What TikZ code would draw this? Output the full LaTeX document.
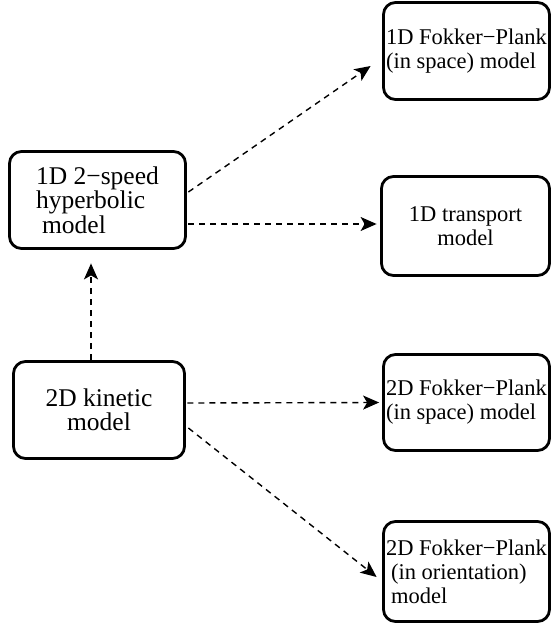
\documentclass[tikz,border=0pt]{standalone}
\usepackage{fontspec}
\setmainfont{Liberation Serif}
\usetikzlibrary{arrows.meta}
\begin{document}
\begin{tikzpicture}[x=1pt,y=-1pt,
  box/.style={draw, line width=2.8pt, rounded corners=12pt, inner sep=0pt},
  leftbox/.style={box, font=\fontsize{25.5}{24.5}\selectfont},
  rightbox/.style={box, font=\fontsize{22.5}{24}\selectfont},
  flow/.style={line width=1.4pt, dash pattern=on 6pt off 5pt, -{Stealth[length=16pt,width=14pt,inset=4pt]}}]
\useasboundingbox (0,0) rectangle (551,628);
\node[rightbox, minimum width=166pt, minimum height=97pt, align=left] (fp1) at (466.5,51) {1D Fokker−Plank\\(in space) model};
\node[leftbox, minimum width=176pt, minimum height=97pt, align=left] (hyp) at (97.5,200) {1D 2−speed\\hyperbolic\\\hspace*{6pt}model};
\node[rightbox, minimum width=168pt, minimum height=99pt, align=center] (tr) at (465.5,226) {1D transport\\model};
\node[leftbox, minimum width=171pt, minimum height=97pt, align=center] (kin) at (99,410) {2D kinetic\\model};
\node[rightbox, minimum width=166pt, minimum height=96pt, align=left] (fp2) at (466.5,402.5) {2D Fokker−Plank\\(in space) model};
\node[rightbox, minimum width=166pt, minimum height=100pt, align=left] (fp3) at (466.5,571.5) {2D Fokker−Plank\\\hspace*{5pt}(in orientation)\\\hspace*{5pt}model};
\draw[flow] ([xshift=1.5pt,yshift=8pt]hyp.east) -- ([xshift=-11.5pt,yshift=-15pt]fp1.west);
\draw[flow] ([xshift=1.5pt,yshift=-24pt]hyp.east) -- ([xshift=-3.5pt,yshift=2pt]tr.west);
\draw[flow] ([xshift=-8pt]kin.north) -- ([xshift=-6.5pt,yshift=-13.5pt]hyp.south);
\draw[flow] ([xshift=1.5pt,yshift=7pt]kin.east) -- ([xshift=-3pt]fp2.west);
\draw[flow] ([xshift=2.5pt,yshift=-18pt]kin.east) -- ([xshift=-5.5pt,yshift=-5.5pt]fp3.west);
\end{tikzpicture}
\end{document}
